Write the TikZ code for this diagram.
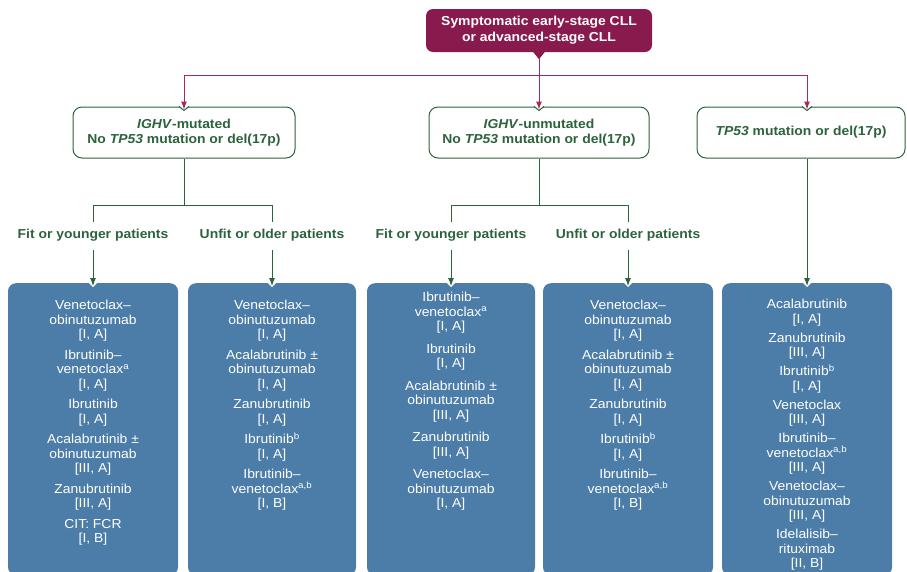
\documentclass[tikz,border=0pt]{standalone}
\usepackage{fontspec}
\setmainfont[FakeStretch=1.07]{Liberation Sans}
\usetikzlibrary{arrows.meta,calc,positioning}
\definecolor{CllClr}{RGB}{137,26,78}
\definecolor{LinkClr}{RGB}{162,44,98}
\definecolor{GreenClr}{RGB}{44,98,60}
\definecolor{BoxClr}{RGB}{76,125,168}

% small cut-in at the top of a box where an arrow lands
\newcommand{\gnotch}[1]{%
  \fill[white] ($(#1)+(-5,-1.5)$) -- ($(#1)+(0,4)$) -- ($(#1)+(5,-1.5)$) -- cycle;
  \draw[grnline] ($(#1)+(-5,0)$) -- ($(#1)+(0,4)$) -- ($(#1)+(5,0)$);}
\newcommand{\bnotch}[1]{%
  \fill[white] ($(#1)+(-5,-1)$) -- ($(#1)+(0,4)$) -- ($(#1)+(5,-1)$) -- cycle;}
% grade in brackets
\newcommand{\grd}[1]{{[#1]}}

\tikzset{
  startbox/.style={fill=CllClr,rounded corners=7pt,text=white,align=center,
    font=\bfseries\fontsize{13}{16}\selectfont,minimum width=226pt,minimum height=43pt,inner sep=0pt},
  groupbox/.style={draw=GreenClr,line width=1pt,fill=white,rounded corners=9pt,text=GreenClr,align=center,
    font=\bfseries\fontsize{13}{15}\selectfont,minimum height=51pt,inner sep=0pt},
  patlabel/.style={text=GreenClr,font=\bfseries\fontsize{13}{15}\selectfont,inner sep=1pt},
  regbox/.style={fill=BoxClr,rounded corners=8pt,anchor=north,minimum height=292pt,inner sep=0pt},
  regtext/.style={text=white,font=\fontsize{13}{14.5}\selectfont,align=center,anchor=north,inner sep=0pt},
  magline/.style={draw=LinkClr,line width=1pt},
  magarrow/.style={magline,-{Latex[length=8pt,width=6pt]},shorten >=-3pt},
  grnline/.style={draw=GreenClr,line width=1pt},
  grnarrow/.style={grnline,-{Latex[length=8pt,width=6pt]},shorten >=-3pt},
}

\begin{document}
\begin{tikzpicture}[x=1pt,y=-1pt]
\useasboundingbox (0,0) rectangle (907,571);

% start
\node[startbox] (start) at (539,30.5) {Symptomatic early-stage CLL\\or advanced-stage CLL};
\fill[CllClr] ($(start.south)+(-6,-0.5)$) -- ($(start.south)+(0,7)$) -- ($(start.south)+(6,-0.5)$) -- cycle;
\coordinate (hub) at (539,75);

% genetic groups
\node[groupbox,minimum width=222pt] (mut) at (184,132.5) {\textit{IGHV}-mutated\\No \textit{TP53} mutation or del(17p)};
\node[groupbox,minimum width=220pt] (unmut) at (539,132.5) {\textit{IGHV}-unmutated\\No \textit{TP53} mutation or del(17p)};
\node[groupbox,minimum width=208pt] (tpm) at (801,132.5) {\textit{TP53} mutation or del(17p)};

% patient labels
\node[patlabel] (fitMlab) at (93,235) {Fit or younger patients};
\node[patlabel] (unfitMlab) at (272,235) {Unfit or older patients};
\node[patlabel] (fitUlab) at (451,235) {Fit or younger patients};
\node[patlabel] (unfitUlab) at (628,235) {Unfit or older patients};

% regimen boxes
\node[regbox,minimum width=170pt] (fitM) at (93,283) {};
\node[regbox,minimum width=168pt] (unfitM) at (272,283) {};
\node[regbox,minimum width=168pt] (fitU) at (451,283) {};
\node[regbox,minimum width=170pt] (unfitU) at (628,283) {};
\node[regbox,minimum width=170pt] (tpbox) at (807,283) {};
\coordinate (tpin) at (tpm.north -| tpbox.north);

\node[regtext] (fitMtxt) at ($(fitM.north)+(0,17)$) {Venetoclax--\\obinutuzumab\\\grd{I, A}\\[6pt]
  Ibrutinib--\\venetoclax\textsuperscript{a}\\\grd{I, A}\\[6pt]
  Ibrutinib\\\grd{I, A}\\[6pt]
  Acalabrutinib ±\\obinutuzumab\\\grd{III, A}\\[6pt]
  Zanubrutinib\\\grd{III, A}\\[6pt]
  CIT: FCR\\\grd{I, B}};
\node[regtext] (unfitMtxt) at ($(unfitM.north)+(0,17)$) {Venetoclax--\\obinutuzumab\\\grd{I, A}\\[6pt]
  Acalabrutinib ±\\obinutuzumab\\\grd{I, A}\\[6pt]
  Zanubrutinib\\\grd{I, A}\\[6pt]
  Ibrutinib\textsuperscript{b}\\\grd{I, A}\\[6pt]
  Ibrutinib--\\venetoclax\textsuperscript{a,b}\\\grd{I, B}};
\node[regtext] (fitUtxt) at ($(fitU.north)+(0,9)$) {Ibrutinib--\\venetoclax\textsuperscript{a}\\\grd{I, A}\\[8pt]
  Ibrutinib\\\grd{I, A}\\[8pt]
  Acalabrutinib ±\\obinutuzumab\\\grd{III, A}\\[8pt]
  Zanubrutinib\\\grd{III, A}\\[8pt]
  Venetoclax--\\obinutuzumab\\\grd{I, A}};
\node[regtext] (unfitUtxt) at ($(unfitU.north)+(0,17)$) {Venetoclax--\\obinutuzumab\\\grd{I, A}\\[6pt]
  Acalabrutinib ±\\obinutuzumab\\\grd{I, A}\\[6pt]
  Zanubrutinib\\\grd{I, A}\\[6pt]
  Ibrutinib\textsuperscript{b}\\\grd{I, A}\\[6pt]
  Ibrutinib--\\venetoclax\textsuperscript{a,b}\\\grd{I, B}};
\node[regtext] (tptxt) at ($(tpbox.north)+(0,16)$) {Acalabrutinib\\\grd{I, A}\\[4.5pt]
  Zanubrutinib\\\grd{III, A}\\[4.5pt]
  Ibrutinib\textsuperscript{b}\\\grd{I, A}\\[4.5pt]
  Venetoclax\\\grd{III, A}\\[4.5pt]
  Ibrutinib--\\venetoclax\textsuperscript{a,b}\\\grd{III, A}\\[4.5pt]
  Venetoclax--\\obinutuzumab\\\grd{III, A}\\[4.5pt]
  Idelalisib--\\rituximab\\\grd{II, B}};

% notches
\gnotch{mut.north}
\gnotch{unmut.north}
\gnotch{tpin}
\bnotch{fitM.north}
\bnotch{unfitM.north}
\bnotch{fitU.north}
\bnotch{unfitU.north}
\bnotch{tpbox.north}

% first split
\draw[magline] ($(start.south)+(0,6)$) -- (hub);
\draw[magarrow] (hub) -| (mut.north);
\draw[magarrow] (hub) -- (unmut.north);
\draw[magarrow] (hub) -| (tpin);

% fitness splits
\draw[grnline] (mut.south) -- ++(0,47) coordinate (splitM);
\draw[grnline] ($(fitMlab.north)+(0,-6)$) |- (splitM) -| ($(unfitMlab.north)+(0,-6)$);
\draw[grnline] (unmut.south) -- ++(0,47) coordinate (splitU);
\draw[grnline] ($(fitUlab.north)+(0,-6)$) |- (splitU) -| ($(unfitUlab.north)+(0,-6)$);

\draw[grnarrow] ($(fitMlab.south)+(0,8)$) -- (fitM.north);
\draw[grnarrow] ($(unfitMlab.south)+(0,8)$) -- (unfitM.north);
\draw[grnarrow] ($(fitUlab.south)+(0,8)$) -- (fitU.north);
\draw[grnarrow] ($(unfitUlab.south)+(0,8)$) -- (unfitU.north);
\draw[grnarrow] (tpm.south -| tpbox.north) -- (tpbox.north);

\end{tikzpicture}
\end{document}
